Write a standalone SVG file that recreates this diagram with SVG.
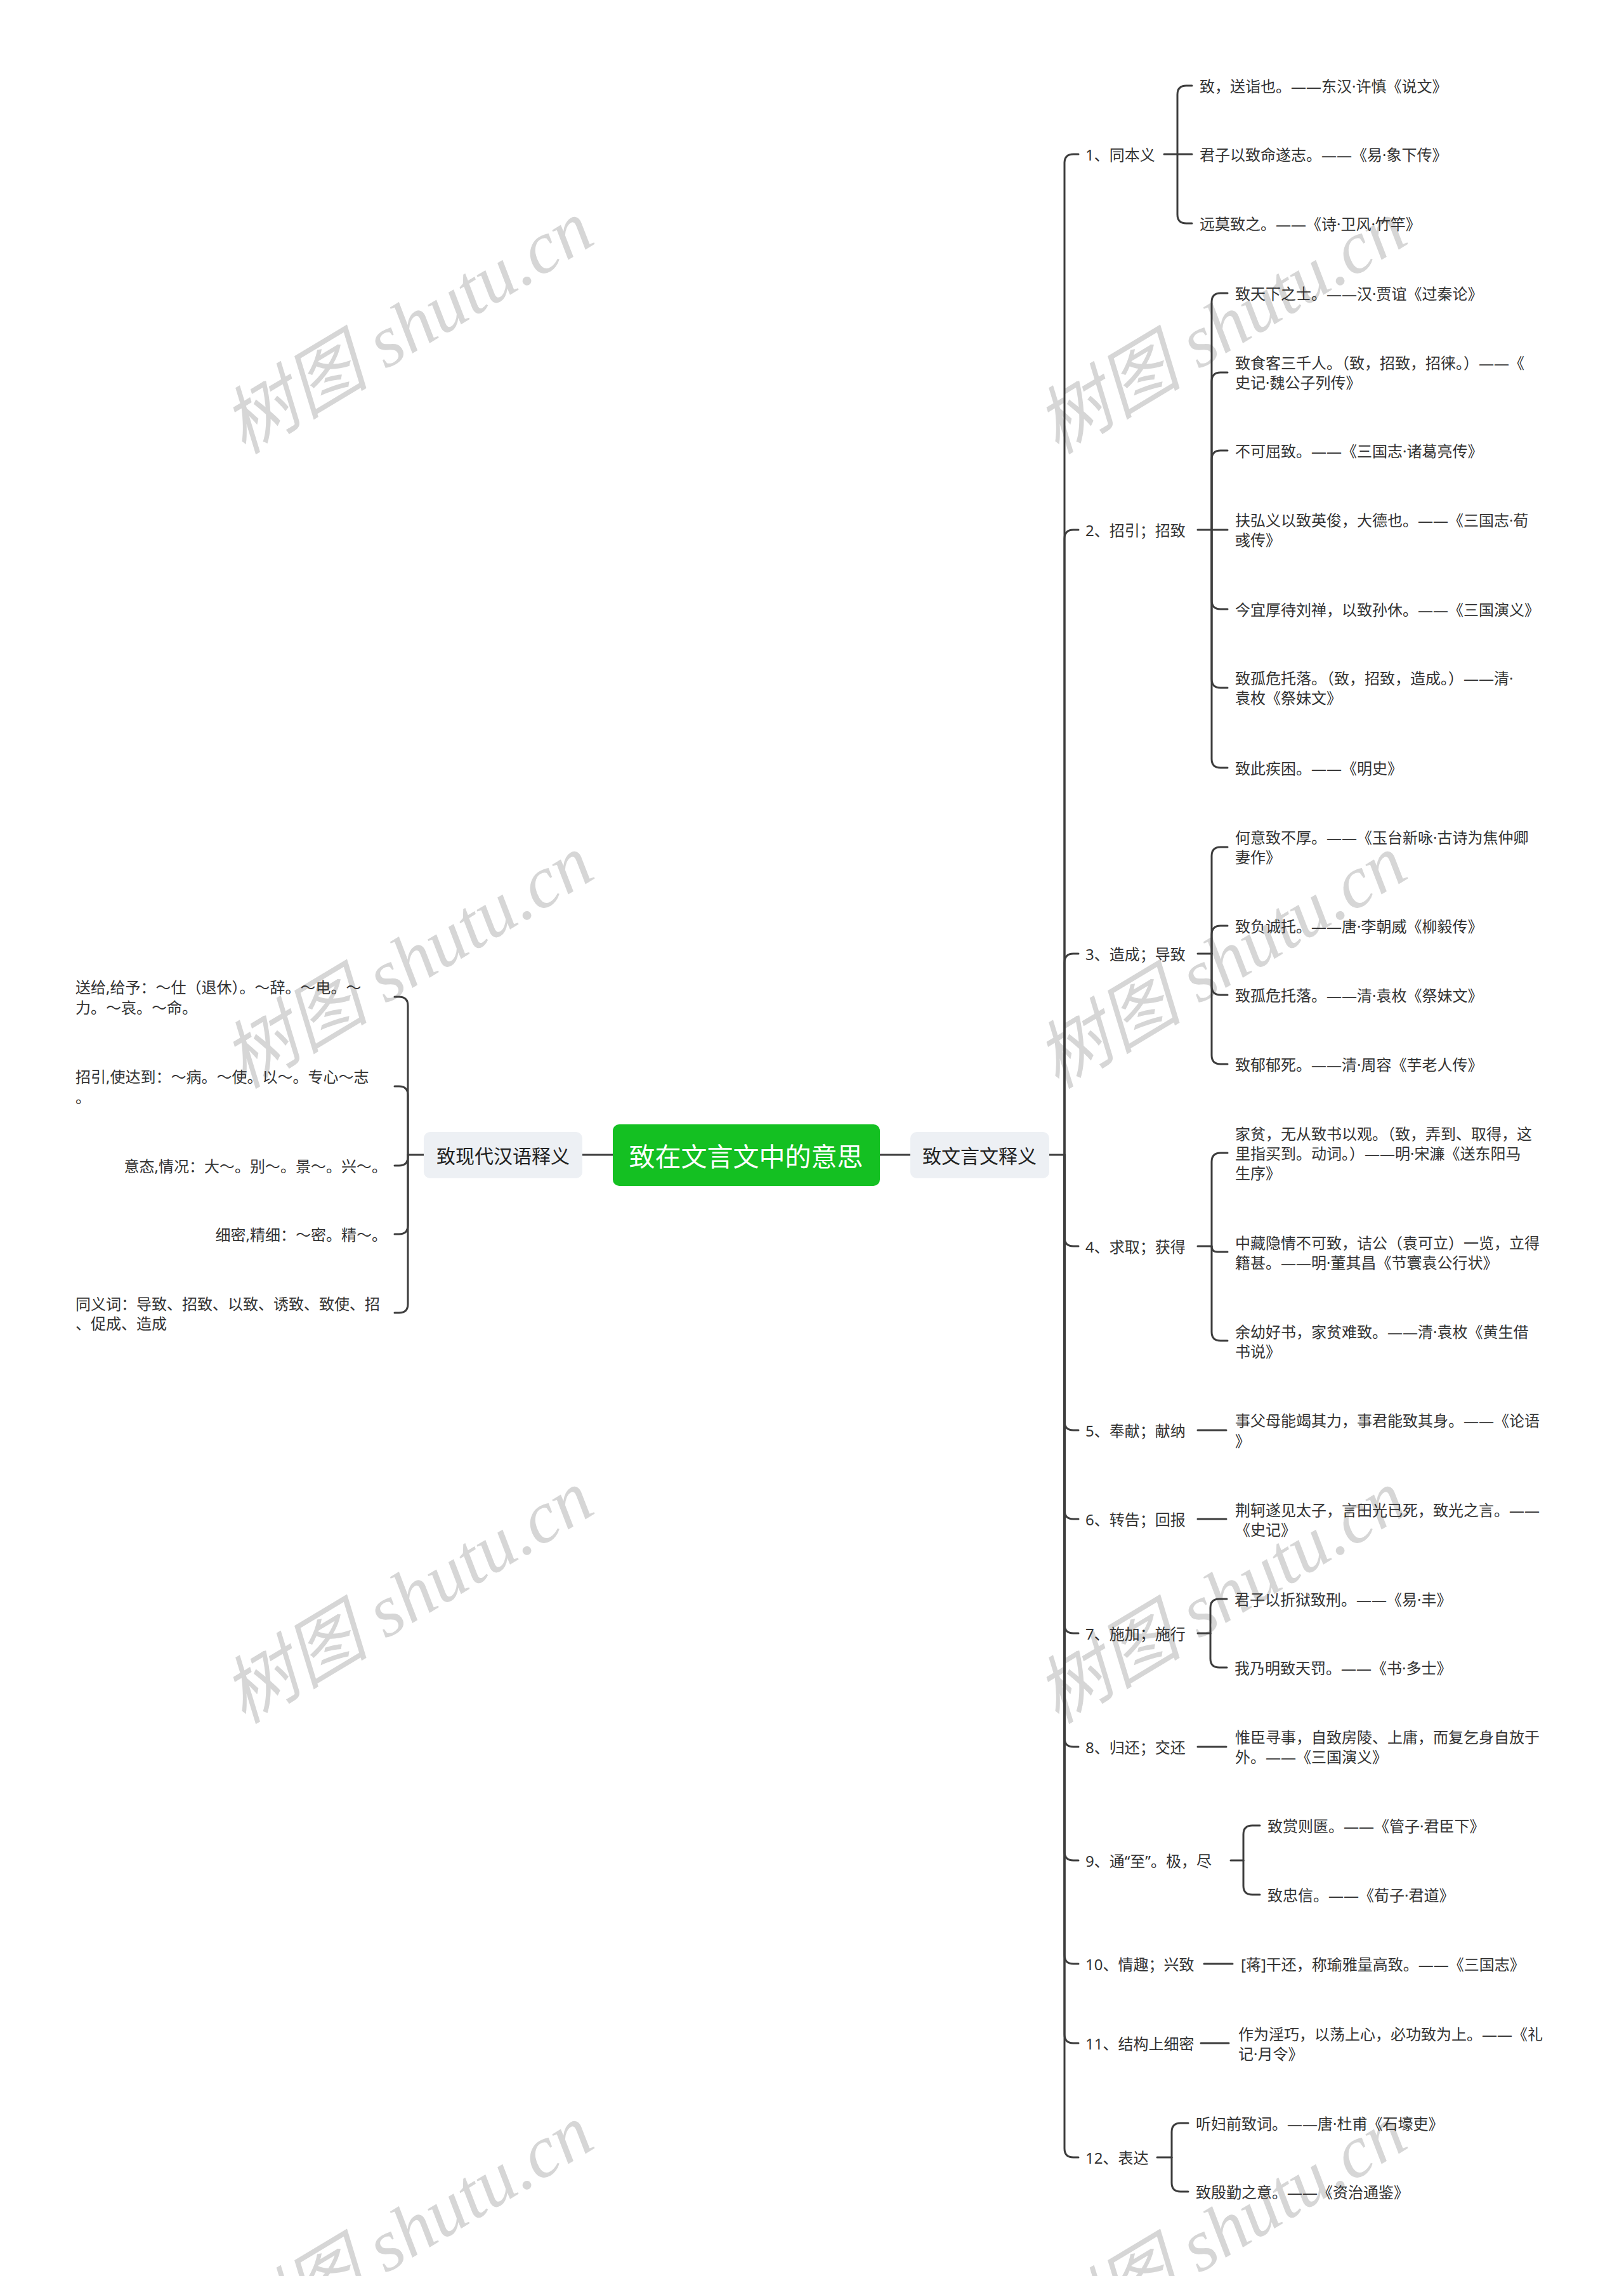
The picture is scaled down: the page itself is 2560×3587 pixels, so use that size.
<svg xmlns="http://www.w3.org/2000/svg" width="2560" height="3587" viewBox="0 0 2560 3587">
<style>
.t{font-family:"Noto Sans","Noto Sans CJK SC",sans-serif;font-size:24px;fill:#333;dominant-baseline:central}
.tr{text-anchor:end}
.l1{font-family:"Noto Sans CJK SC","Noto Sans",sans-serif;font-size:30px;fill:#222;dominant-baseline:central;text-anchor:middle}
.root{font-family:"Noto Sans CJK SC","Noto Sans",sans-serif;font-size:41px;fill:#fff;dominant-baseline:central;text-anchor:middle}
.c path{fill:none;stroke:#3d3d3d;stroke-width:3;stroke-linecap:round}
.wm{font-family:"Liberation Serif","Noto Sans CJK SC",serif;font-style:italic;font-size:116px;fill:#d6d6d6;text-anchor:middle;dominant-baseline:central}
</style>
<rect width="2560" height="3587" fill="#fff"/>
<g id="watermarks">
<text class="wm" transform="translate(643,516) rotate(-31)">树图 shutu.cn</text>
<text class="wm" transform="translate(1925,516) rotate(-31)">树图 shutu.cn</text>
<text class="wm" transform="translate(643,1516) rotate(-31)">树图 shutu.cn</text>
<text class="wm" transform="translate(1925,1516) rotate(-31)">树图 shutu.cn</text>
<text class="wm" transform="translate(643,2517) rotate(-31)">树图 shutu.cn</text>
<text class="wm" transform="translate(1925,2517) rotate(-31)">树图 shutu.cn</text>
<text class="wm" transform="translate(643,3517) rotate(-31)">树图 shutu.cn</text>
<text class="wm" transform="translate(1925,3517) rotate(-31)">树图 shutu.cn</text>
</g>
<g id="connectors" class="c">
<path d="M918,1820 H966"/>
<path d="M1387,1820 H1435"/>
<path d="M1654,1820 H1678"/>
<path d="M668,1820 H643"/>
<path d="M643,1820 V1585 Q643,1571 629,1571 H622"/>
<path d="M643,1820 V1726 Q643,1712 629,1712 H622"/>
<path d="M643,1820 V1823 Q643,1837 629,1837 H622"/>
<path d="M643,1820 V1931 Q643,1945 629,1945 H622"/>
<path d="M643,1820 V2055 Q643,2069 629,2069 H622"/>
<path d="M1678,1820 V257 Q1678,243 1692,243 H1700"/>
<path d="M1678,1820 V849 Q1678,835 1692,835 H1700"/>
<path d="M1678,1820 V1517 Q1678,1503 1692,1503 H1700"/>
<path d="M1678,1820 V1950 Q1678,1964 1692,1964 H1700"/>
<path d="M1678,1820 V2240 Q1678,2254 1692,2254 H1700"/>
<path d="M1678,1820 V2380 Q1678,2394 1692,2394 H1700"/>
<path d="M1678,1820 V2560 Q1678,2574 1692,2574 H1700"/>
<path d="M1678,1820 V2739 Q1678,2753 1692,2753 H1700"/>
<path d="M1678,1820 V2918 Q1678,2932 1692,2932 H1700"/>
<path d="M1678,1820 V3081 Q1678,3095 1692,3095 H1700"/>
<path d="M1678,1820 V3206 Q1678,3220 1692,3220 H1700"/>
<path d="M1678,1820 V3386 Q1678,3400 1692,3400 H1700"/>
<path d="M1835,243 H1856"/>
<path d="M1856,243 V149 Q1856,135 1870,135 H1879"/>
<path d="M1856,243 H1879"/>
<path d="M1856,243 V338 Q1856,352 1870,352 H1879"/>
<path d="M1888,835 H1910"/>
<path d="M1910,835 V476 Q1910,462 1924,462 H1935"/>
<path d="M1910,835 V601 Q1910,587 1924,587 H1935"/>
<path d="M1910,835 V724 Q1910,710 1924,710 H1935"/>
<path d="M1910,835 H1935"/>
<path d="M1910,835 V946 Q1910,960 1924,960 H1935"/>
<path d="M1910,835 V1070 Q1910,1084 1924,1084 H1935"/>
<path d="M1910,835 V1196 Q1910,1210 1924,1210 H1935"/>
<path d="M1888,1503 H1910"/>
<path d="M1910,1503 V1349 Q1910,1335 1924,1335 H1935"/>
<path d="M1910,1503 V1473 Q1910,1459 1924,1459 H1935"/>
<path d="M1910,1503 V1554 Q1910,1568 1924,1568 H1935"/>
<path d="M1910,1503 V1663 Q1910,1677 1924,1677 H1935"/>
<path d="M1888,1964 H1910"/>
<path d="M1910,1964 V1831 Q1910,1817 1924,1817 H1935"/>
<path d="M1910,1964 Q1910,1973 1919,1973 H1935"/>
<path d="M1910,1964 V2099 Q1910,2113 1924,2113 H1935"/>
<path d="M1888,2254 H1933"/>
<path d="M1888,2394 H1933"/>
<path d="M1888,2574 H1908"/>
<path d="M1908,2574 V2534 Q1908,2520 1922,2520 H1934"/>
<path d="M1908,2574 V2614 Q1908,2628 1922,2628 H1934"/>
<path d="M1888,2753 H1933"/>
<path d="M1940,2932 H1960"/>
<path d="M1960,2932 V2891 Q1960,2877 1974,2877 H1986"/>
<path d="M1960,2932 V2972 Q1960,2986 1974,2986 H1986"/>
<path d="M1898,3095 H1943"/>
<path d="M1893,3220 H1937"/>
<path d="M1824,3400 H1847"/>
<path d="M1847,3400 V3360 Q1847,3346 1861,3346 H1873"/>
<path d="M1847,3400 V3440 Q1847,3454 1861,3454 H1873"/>
</g>
<g id="root"><rect x="966" y="1772" width="421" height="97" rx="10" fill="#14c022"/><text class="root" x="1176" y="1820">致在文言文中的意思</text></g>
<g id="classical"><rect x="1435" y="1784" width="219" height="73" rx="10" fill="#edf0f4"/><text class="l1" x="1544" y="1820">致文言文释义</text></g>
<g id="modern"><rect x="668" y="1784" width="250" height="73" rx="10" fill="#edf0f4"/><text class="l1" x="793" y="1820">致现代汉语释义</text></g>
<g id="m1"><text class="t" x="119"><tspan x="119" y="1555">送给,给予：～仕（退休）。～辞。～电。～</tspan><tspan x="119" y="1587">力。～哀。～命。</tspan></text></g>
<g id="m2"><text class="t" x="119"><tspan x="119" y="1696">招引,使达到：～病。～使。以～。专心～志</tspan><tspan x="119" y="1728">。</tspan></text></g>
<g id="m3"><text class="t tr" x="610" y="1837">意态,情况：大～。别～。景～。兴～。</text></g>
<g id="m4"><text class="t tr" x="610" y="1945">细密,精细：～密。精～。</text></g>
<g id="m5"><text class="t" x="119"><tspan x="119" y="2054">同义词：导致、招致、以致、诱致、致使、招</tspan><tspan x="119" y="2085">、促成、造成</tspan></text></g>
<g id="r1"><text class="t" x="1711" y="243">1、同本义</text></g>
<g id="r1c1"><text class="t" x="1891" y="135">致，送诣也。——东汉·许慎《说文》</text></g>
<g id="r1c2"><text class="t" x="1891" y="243">君子以致命遂志。——《易·象下传》</text></g>
<g id="r1c3"><text class="t" x="1891" y="352">远莫致之。——《诗·卫风·竹竿》</text></g>
<g id="r2"><text class="t" x="1711" y="835">2、招引；招致</text></g>
<g id="r2c1"><text class="t" x="1947" y="462">致天下之士。——汉·贾谊《过秦论》</text></g>
<g id="r2c2"><text class="t" x="1947"><tspan x="1947" y="571">致食客三千人。（致，招致，招徕。）——《</tspan><tspan x="1947" y="602">史记·魏公子列传》</tspan></text></g>
<g id="r2c3"><text class="t" x="1947" y="710">不可屈致。——《三国志·诸葛亮传》</text></g>
<g id="r2c4"><text class="t" x="1947"><tspan x="1947" y="819">扶弘义以致英俊，大德也。——《三国志·荀</tspan><tspan x="1947" y="850">彧传》</tspan></text></g>
<g id="r2c5"><text class="t" x="1947" y="960">今宜厚待刘禅，以致孙休。——《三国演义》</text></g>
<g id="r2c6"><text class="t" x="1947"><tspan x="1947" y="1068">致孤危托落。（致，招致，造成。）——清·</tspan><tspan x="1947" y="1099">袁枚《祭妹文》</tspan></text></g>
<g id="r2c7"><text class="t" x="1947" y="1210">致此疾困。——《明史》</text></g>
<g id="r3"><text class="t" x="1711" y="1503">3、造成；导致</text></g>
<g id="r3c1"><text class="t" x="1947"><tspan x="1947" y="1319">何意致不厚。——《玉台新咏·古诗为焦仲卿</tspan><tspan x="1947" y="1350">妻作》</tspan></text></g>
<g id="r3c2"><text class="t" x="1947" y="1459">致负诚托。——唐·李朝威《柳毅传》</text></g>
<g id="r3c3"><text class="t" x="1947" y="1568">致孤危托落。——清·袁枚《祭妹文》</text></g>
<g id="r3c4"><text class="t" x="1947" y="1677">致郁郁死。——清·周容《芋老人传》</text></g>
<g id="r4"><text class="t" x="1711" y="1964">4、求取；获得</text></g>
<g id="r4c1"><text class="t" x="1947"><tspan x="1947" y="1786">家贫，无从致书以观。（致，弄到、取得，这</tspan><tspan x="1947" y="1817">里指买到。动词。）——明·宋濂《送东阳马</tspan><tspan x="1947" y="1848">生序》</tspan></text></g>
<g id="r4c2"><text class="t" x="1947"><tspan x="1947" y="1958">中藏隐情不可致，诘公（袁可立）一览，立得</tspan><tspan x="1947" y="1989">籍甚。——明·董其昌《节寰袁公行状》</tspan></text></g>
<g id="r4c3"><text class="t" x="1947"><tspan x="1947" y="2098">余幼好书，家贫难致。——清·袁枚《黄生借</tspan><tspan x="1947" y="2129">书说》</tspan></text></g>
<g id="r5"><text class="t" x="1711" y="2254">5、奉献；献纳</text></g>
<g id="r5c1"><text class="t" x="1947"><tspan x="1947" y="2238">事父母能竭其力，事君能致其身。——《论语</tspan><tspan x="1947" y="2270">》</tspan></text></g>
<g id="r6"><text class="t" x="1711" y="2394">6、转告；回报</text></g>
<g id="r6c1"><text class="t" x="1947"><tspan x="1947" y="2379">荆轲遂见太子，言田光已死，致光之言。——</tspan><tspan x="1947" y="2410">《史记》</tspan></text></g>
<g id="r7"><text class="t" x="1711" y="2574">7、施加；施行</text></g>
<g id="r7c1"><text class="t" x="1946" y="2520">君子以折狱致刑。——《易·丰》</text></g>
<g id="r7c2"><text class="t" x="1946" y="2628">我乃明致天罚。——《书·多士》</text></g>
<g id="r8"><text class="t" x="1711" y="2753">8、归还；交还</text></g>
<g id="r8c1"><text class="t" x="1947"><tspan x="1947" y="2737">惟臣寻事，自致房陵、上庸，而复乞身自放于</tspan><tspan x="1947" y="2768">外。——《三国演义》</tspan></text></g>
<g id="r9"><text class="t" x="1711" y="2932">9、通“至”。极，尽</text></g>
<g id="r9c1"><text class="t" x="1998" y="2877">致赏则匮。——《管子·君臣下》</text></g>
<g id="r9c2"><text class="t" x="1998" y="2986">致忠信。——《荀子·君道》</text></g>
<g id="r10"><text class="t" x="1711" y="3095">10、情趣；兴致</text></g>
<g id="r10c1"><text class="t" x="1956" y="3095">[蒋]干还，称瑜雅量高致。——《三国志》</text></g>
<g id="r11"><text class="t" x="1711" y="3220">11、结构上细密</text></g>
<g id="r11c1"><text class="t" x="1952"><tspan x="1952" y="3205">作为淫巧，以荡上心，必功致为上。——《礼</tspan><tspan x="1952" y="3236">记·月令》</tspan></text></g>
<g id="r12"><text class="t" x="1711" y="3400">12、表达</text></g>
<g id="r12c1"><text class="t" x="1885" y="3346">听妇前致词。——唐·杜甫《石壕吏》</text></g>
<g id="r12c2"><text class="t" x="1885" y="3454">致殷勤之意。——《资治通鉴》</text></g>
</svg>
